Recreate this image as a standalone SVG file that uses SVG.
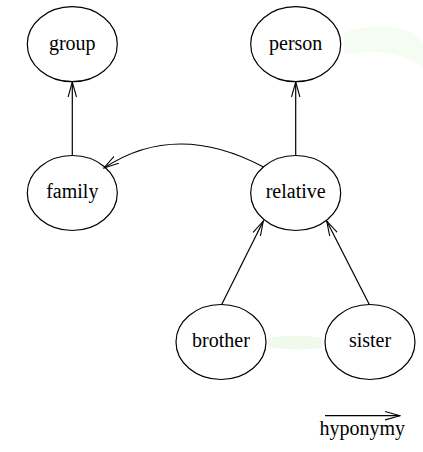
<svg xmlns="http://www.w3.org/2000/svg" width="423" height="452" viewBox="0 0 423 452">
<style>
.n ellipse{fill:none;stroke:#000;stroke-width:1.2}
.n text, .lbl{font-family:"Liberation Serif","Times New Roman",serif;font-size:20px;fill:#000;text-anchor:middle}
.e path{fill:none;stroke:#000;stroke-width:1.2;marker-end:url(#ah)}
</style>
<defs>
<marker id="ah" viewBox="0 0 16 10" refX="15" refY="5" markerWidth="16" markerHeight="10" markerUnits="userSpaceOnUse" orient="auto">
<path d="M0,0.8 L15,5 L0,9.2" fill="none" stroke="#000" stroke-width="1.1"/>
</marker>
</defs>
<rect width="423" height="452" fill="#fff"/>
<g id="smudges" fill="#f5fdf3" stroke="none">
<path d="M344,33 C360,26 385,24 405,30 C415,34 420,40 423,44 L423,68 C410,58 395,53 375,52 C362,52 350,53 344,54 Z"/>
<path d="M268,338 C285,335 305,335 322,338 L322,348 C305,350 285,350 268,347 Z" fill="#f0faec"/>
</g>
<g id="connectors" class="e">
<path d="M72.3,156 L72.3,82"/>
<path d="M295.7,156 L295.7,82"/>
<path d="M263.5,167 Q176,120.5 104,168"/>
<path d="M221.7,304.5 L263.3,221"/>
<path d="M369.3,304.5 L326.7,221"/>
<path d="M325,415.7 L400,415.7"/>
</g>
<g id="group" class="n"><ellipse cx="72.3" cy="44.2" rx="45" ry="37.5"/><text x="72.3" y="49.5">group</text></g>
<g id="person" class="n"><ellipse cx="295.7" cy="44.2" rx="45" ry="37.5"/><text x="295.7" y="49.5">person</text></g>
<g id="family" class="n"><ellipse cx="72.3" cy="193" rx="45" ry="37.5"/><text x="72.3" y="197.8">family</text></g>
<g id="relative" class="n"><ellipse cx="295.7" cy="193" rx="45" ry="37.5"/><text x="295.7" y="197.8">relative</text></g>
<g id="brother" class="n"><ellipse cx="221" cy="342" rx="45" ry="37.5"/><text x="221" y="346.5">brother</text></g>
<g id="sister" class="n"><ellipse cx="370" cy="342" rx="45" ry="37.5"/><text x="370" y="346.5">sister</text></g>
<text class="lbl" x="362.3" y="435">hyponymy</text>
</svg>
